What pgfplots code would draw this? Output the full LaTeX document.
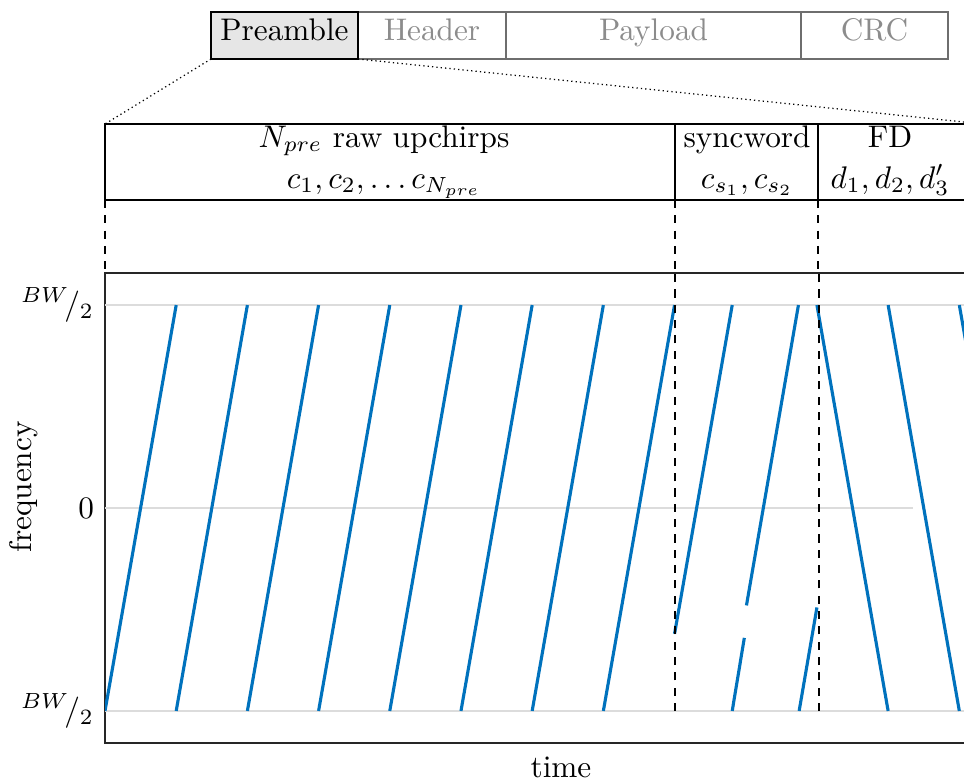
\documentclass[border=0pt]{standalone}
\usepackage{pgfplots}
\pgfplotsset{compat=1.18}
\definecolor{mblue}{HTML}{0072BD}
\definecolor{axgray}{HTML}{262626}
\definecolor{gridgray}{HTML}{DCDCDC}
\definecolor{boxgray}{HTML}{6E6E6E}
\definecolor{txtgray}{HTML}{8C8C8C}
\definecolor{fillgray}{HTML}{E6E6E6}
\begin{document}
\begin{tikzpicture}[x=0.32pt,y=-0.32pt]
% packet boxes
\draw[boxgray, line width=0.5pt] (358,12) rectangle (506,59);
\draw[boxgray, line width=0.5pt] (506,12) rectangle (801,59);
\draw[boxgray, line width=0.5pt] (801,12) rectangle (948,59);
\draw[black, fill=fillgray, line width=0.7pt] (211,12) rectangle (358,59);
\node[anchor=base] at (284.5,40) {Preamble};
\node[anchor=base, txtgray] at (432,40) {Header};
\node[anchor=base, txtgray] at (653.5,40) {Payload};
\node[anchor=base, txtgray] at (874.5,40) {CRC};
% zoom lines
\draw[densely dotted, line width=0.4pt] (211,59) -- (105,124);
\draw[densely dotted, line width=0.4pt] (358,59) -- (983,124);
% structure box
\draw[line width=0.8pt] (1030,124) -- (105,124) -- (105,200) -- (1030,200);
\draw[line width=0.8pt] (675,124) -- (675,200);
\draw[line width=0.8pt] (818,124) -- (818,200);
\node[anchor=base] at (384,147) {$N_{pre}$ raw upchirps};
\node[anchor=base] at (384,188) {$c_1, c_2, \dots c_{N_{pre}}$};
\node[anchor=base] at (747,147) {syncword};
\node[anchor=base] at (747,188) {$c_{s_1}, c_{s_2}$};
\node[anchor=base] at (890,147) {FD};
\node[anchor=base] at (890,188) {$d_1, d_2, d_3'$};
\draw[dash pattern=on 2.6pt off 2.3pt, line width=0.65pt] (105,200) -- (105,273);
\draw[dash pattern=on 2.6pt off 2.3pt, line width=0.65pt] (675,200) -- (675,273);
\draw[dash pattern=on 2.6pt off 2.3pt, line width=0.65pt] (818,200) -- (818,273);
\begin{axis}[
  at={(33.6pt,-237.76pt)}, anchor=south west,
  scale only axis, width=291.84pt, height=150.4pt,
  xmin=0, xmax=12.81, ymin=-1.158, ymax=1.158,
  xtick=\empty,
  ytick={-1,0,1},
  yticklabels={$^{BW}\!/_{2}$, $0$, $^{BW}\!/_{2}$},
  ytick pos=left, tick align=inside,
  major tick length=3pt,
  tick style={axgray, line width=0.6pt},
  axis line style={axgray, line width=0.6pt},
  xlabel={time}, ylabel={frequency},
  xlabel style={yshift=-1pt},
  ylabel style={at={(axis description cs:-0.0888,0.545)}, anchor=center},
  unbounded coords=jump,
]
\addplot[gridgray, line width=0.5pt] coordinates {(0,1) (12.81,1)};
\addplot[gridgray, line width=0.5pt] coordinates {(0,-1) (12.81,-1)};
\addplot[gridgray, line width=0.5pt] coordinates {(0,0) (11.35,0)};
% preamble upchirps
\addplot[mblue, line width=1pt] coordinates {
 (0,-1) (1,1) (1,nan)
 (1,-1) (2,1) (2,nan)
 (2,-1) (3,1) (3,nan)
 (3,-1) (4,1) (4,nan)
 (4,-1) (5,1) (5,nan)
 (5,-1) (6,1) (6,nan)
 (6,-1) (7,1) (7,nan)
 (7,-1) (8,1)};
% syncword
\addplot[mblue, line width=1pt] coordinates {
 (8,-0.62) (8.81,1) (8.81,nan)
 (8.81,-1) (8.98,-0.64) (8.99,nan)
 (9.01,-0.48) (9.74,1) (9.74,nan)
 (9.75,-1) (10,-0.49)};
% FD downchirps
\addplot[mblue, line width=1pt] coordinates {
 (10,1) (11,-1) (11,nan)
 (11,1) (12,-1) (12,nan)
 (12,1) (12.25,0.5)};
\addplot[black, line width=0.65pt, dash pattern=on 2.6pt off 2.3pt] coordinates {(8,-1) (8,1.158)};
\addplot[black, line width=0.65pt, dash pattern=on 2.6pt off 2.3pt] coordinates {(10.03,-1) (10.03,1.158)};
\end{axis}
\pgfresetboundingbox
\path[use as bounding box] (0,0) rectangle (964,783);
\end{tikzpicture}
\end{document}
